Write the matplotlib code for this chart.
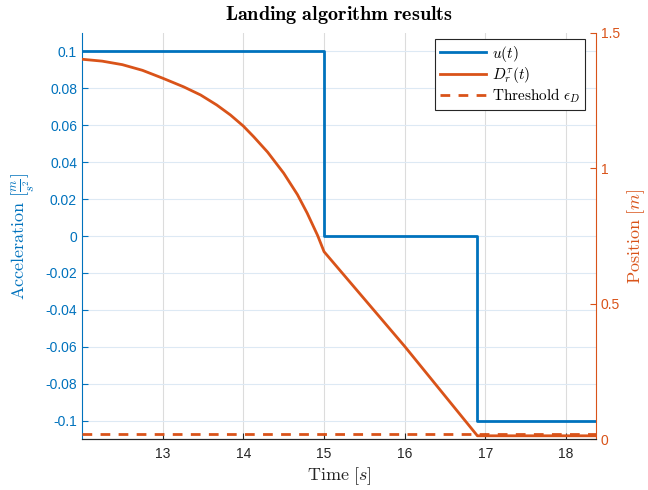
import numpy as np
import matplotlib
matplotlib.use("Agg")
import matplotlib.pyplot as plt

plt.rcParams['mathtext.fontset'] = 'cm'
plt.rcParams['font.family'] = ['Liberation Sans', 'DejaVu Sans']

# donnees
t_u = [12.0, 15.0, 16.9, 18.37]
u_vals = [0.1, 0.0, -0.1, -0.1]

t_d = [12.0, 12.25, 12.5, 12.75, 13.0, 13.26, 13.47, 13.67, 13.84, 14.0, 14.13, 14.3, 14.5,
       14.67, 14.79, 14.92, 15.0, 16.0, 16.9, 18.37]
d_vals = [1.403, 1.396, 1.383, 1.362, 1.333, 1.301, 1.271, 1.234, 1.197, 1.156, 1.116, 1.06, 0.982,
          0.903, 0.835, 0.752, 0.692, 0.342, 0.012, 0.012]

threshold = 0.02
x_ticks = [13, 14, 15, 16, 17, 18]
left_ticks = [-0.1, -0.08, -0.06, -0.04, -0.02, 0, 0.02, 0.04, 0.06, 0.08, 0.1]
left_labels = ['-0.1', '-0.08', '-0.06', '-0.04', '-0.02', '0', '0.02', '0.04', '0.06', '0.08', '0.1']
right_ticks = [0, 0.5, 1, 1.5]
right_labels = ['0', '0.5', '1', '1.5']

blue = '#0072BD'
orange = '#D95319'

fig = plt.figure(figsize=(6.48, 4.9), dpi=100)
ax = fig.add_axes([0.1265, 0.104, 0.7933, 0.8287])
ax2 = ax.twinx()

l1, = ax.plot(t_u, u_vals, color=blue, lw=2, drawstyle='steps-post', label=r'$u(t)$')
l2, = ax2.plot(t_d, d_vals, color=orange, lw=2, label=r'$D_r^\tau(t)$')
l3 = ax2.axhline(threshold, color=orange, lw=2, ls=(0, (3.5, 3)), label=r'$\mathrm{Threshold}\ \epsilon_D$')

ax.set_xlim(12.0, 18.37)
ax.set_ylim(-0.11, 0.11)
ax2.set_ylim(0, 1.5)

ax.set_xticks(x_ticks)
ax.set_xticklabels([str(x) for x in x_ticks])
ax.set_yticks(left_ticks)
ax.set_yticklabels(left_labels)
ax2.set_yticks(right_ticks)
ax2.set_yticklabels(right_labels)

ax.tick_params(axis='x', direction='in', colors='#262626', labelsize=10, length=4, pad=6)
ax.tick_params(axis='y', direction='in', colors=blue, labelsize=10, length=4)
ax2.tick_params(axis='y', direction='in', colors=orange, labelsize=10, length=4)

ax.xaxis.grid(True, color='#dcdcdc', lw=0.8)
ax.yaxis.grid(True, color='#dde9f4', lw=0.8)
ax.set_axisbelow(True)

for a in (ax, ax2):
    a.spines['top'].set_visible(False)
ax.spines['right'].set_visible(False)
ax.spines['left'].set_color(blue)
ax2.spines['left'].set_visible(False)
ax2.spines['right'].set_color(orange)
ax2.spines['bottom'].set_color('#262626')
ax.spines['bottom'].set_color('#262626')

ax.set_xlabel(r'$\mathrm{Time}\ [s]$', fontsize=13, color='#262626', labelpad=3)
ax.set_ylabel(r'$\mathrm{Acceleration}\ [\frac{m}{s^2}]$', fontsize=13, color=blue, labelpad=6)
ax2.set_ylabel(r'$\mathrm{Position}\ [m]$', fontsize=13, color=orange, labelpad=4)
ax.set_title(r'$\mathbf{Landing\ algorithm\ results}$', fontsize=14.5, pad=9)

leg = ax2.legend(handles=[l1, l2, l3], loc='upper right', bbox_to_anchor=(0.978, 0.985),
                 fontsize=11, fancybox=False, framealpha=1, edgecolor='#262626',
                 borderpad=0.3, labelspacing=0.1, handlelength=3.0, handletextpad=0.4,
                 borderaxespad=0)
leg.get_frame().set_linewidth(0.8)

plt.savefig('out.png', dpi=100)
